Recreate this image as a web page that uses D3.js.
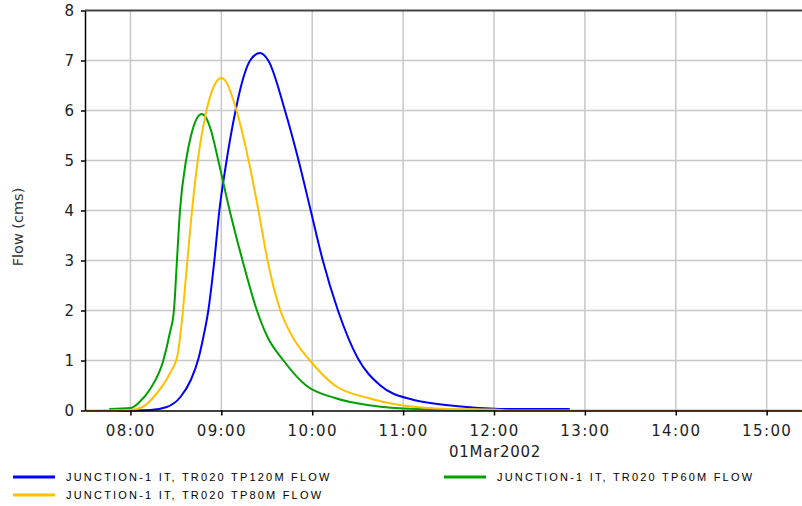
<!DOCTYPE html>
<html>
<head>
<meta charset="utf-8">
<script src="https://cdn.jsdelivr.net/npm/d3@7"></script>
<style>
  body { margin: 0; background: #fff; }
  svg { display: block; }
</style>
</head>
<body>
<div id="chart"></div>
<script>
// Flow hydrographs, 01 Mar 2002 (times HH:MM[:SS], flow in cms)
const day = "2002-03-01";
const xStart = "07:30", xEnd = "15:23:20";
const hourTicks = ["08:00", "09:00", "10:00", "11:00", "12:00", "13:00", "14:00", "15:00"];
const flowTicks = [0, 1, 2, 3, 4, 5, 6, 7, 8];

const seriesNames = [
  "JUNCTION-1 IT, TR020 TP120M FLOW",
  "JUNCTION-1 IT, TR020 TP60M FLOW",
  "JUNCTION-1 IT, TR020 TP80M FLOW"
];
const seriesColors = ["#0000ff", "#00a000", "#ffc000"];

const tp120Times = ["07:52","08:13","08:24","08:33","08:40","08:45","08:48","08:51:24","08:55:24","08:58:42","09:02:42","09:09:24","09:14","09:19","09:25:30","09:31","09:42","09:51","09:59","10:07","10:17","10:30","10:45","11:06","11:18","11:42","12:10","12:50"];
const tp120Flow  = [0, 0.01, 0.07, 0.27, 0.62, 1.05, 1.45, 2.00, 3.00, 4.00, 4.85, 6.00, 6.60, 7.00, 7.15, 7.00, 6.00, 5.00, 4.00, 3.00, 2.00, 1.05, 0.50, 0.22, 0.15, 0.07, 0.03, 0.03];

const tp60Times = ["07:46","08:00","08:06","08:13","08:21:42","08:26","08:28:42","08:30:42","08:32:42","08:36:42","08:40","08:44","08:47","08:50","08:53","08:58","09:05:30","09:14","09:23:30","09:30","09:41","09:56","10:15","10:39","11:09","11:30","12:00","12:10"];
const tp60Flow  = [0.03, 0.05, 0.17, 0.43, 1.00, 1.55, 2.00, 3.00, 4.00, 5.00, 5.50, 5.85, 5.93, 5.85, 5.62, 5.00, 4.00, 3.00, 2.00, 1.50, 1.00, 0.50, 0.25, 0.10, 0.03, 0.02, 0.01, 0];

const tp80Times = ["07:30","08:00","08:08","08:17","08:26","08:31","08:34","08:37","08:40","08:44","08:49:30","08:55","09:00","09:03","09:10","09:18","09:24:30","09:30:30","09:39","09:46:30","09:58:30","10:15","10:37","11:00","11:31","12:00","12:10","15:23"];
const tp80Flow  = [0, 0.01, 0.07, 0.33, 0.74, 1.10, 1.80, 2.80, 3.80, 4.90, 5.90, 6.48, 6.65, 6.58, 6.00, 5.00, 4.00, 3.00, 2.00, 1.50, 1.00, 0.50, 0.25, 0.10, 0.03, 0.02, 0, 0];

const parseT = s => d3.timeParse("%Y-%m-%d %H:%M:%S")(day + " " + (s.length === 5 ? s + ":00" : s));
const toPoints = (times, flows) => times.map((t, i) => ({ t: parseT(t), v: flows[i] }));
const series = [
  toPoints(tp120Times, tp120Flow),
  toPoints(tp60Times, tp60Flow),
  toPoints(tp80Times, tp80Flow)
];

const width = 802, height = 506;
const margin = { top: 10.5, right: 0, bottom: 95.5, left: 85 };

const svg = d3.select("#chart").append("svg")
  .attr("width", width)
  .attr("height", height);

const x = d3.scaleTime()
  .domain([parseT(xStart), parseT(xEnd)])
  .range([margin.left, width - margin.right]);
const y = d3.scaleLinear()
  .domain([0, 8])
  .range([height - margin.bottom, margin.top]);

// Grid
svg.append("g")
  .selectAll("line")
  .data(hourTicks.map(parseT))
  .join("line")
  .attr("x1", d => x(d)).attr("x2", d => x(d))
  .attr("y1", y(8)).attr("y2", y(0))
  .attr("stroke", "#c8c8c8")
  .attr("stroke-width", 1.5);
svg.append("g")
  .selectAll("line")
  .data(flowTicks.filter(d => d > 0 && d < 8))
  .join("line")
  .attr("x1", x.range()[0]).attr("x2", x.range()[1])
  .attr("y1", d => y(d)).attr("y2", d => y(d))
  .attr("stroke", "#c8c8c8")
  .attr("stroke-width", 1.5);

// Top border
svg.append("line")
  .attr("x1", x.range()[0]).attr("x2", x.range()[1])
  .attr("y1", y(8)).attr("y2", y(8))
  .attr("stroke", "#444")
  .attr("stroke-width", 2);

// Series lines
const line = d3.line()
  .x(d => x(d.t))
  .y(d => y(d.v))
  .curve(d3.curveMonotoneX);

series.forEach((s, i) => {
  svg.append("path")
    .datum(s)
    .attr("fill", "none")
    .attr("stroke", seriesColors[i])
    .attr("stroke-width", 2)
    .attr("stroke-linejoin", "round")
    .attr("d", line);
});

// Axes
const xAxis = svg.append("g")
  .attr("transform", `translate(0,${y(0)})`)
  .call(d3.axisBottom(x)
    .tickValues(hourTicks.map(parseT))
    .tickFormat(d3.timeFormat("%H:%M"))
    .tickSize(5)
    .tickPadding(10)
    .tickSizeOuter(0));
xAxis.select(".domain").attr("stroke", "#000").attr("stroke-width", 1.5);
xAxis.selectAll(".tick line").attr("stroke", "#000").attr("stroke-width", 1.5);
xAxis.selectAll(".tick text")
  .attr("font-family", "DejaVu Sans")
  .attr("font-size", 15)
  .attr("letter-spacing", 1.4)
  .attr("fill", "#222");

const yAxis = svg.append("g")
  .attr("transform", `translate(${x.range()[0]},0)`)
  .call(d3.axisLeft(y)
    .tickValues(flowTicks)
    .tickFormat(d3.format("d"))
    .tickSize(4)
    .tickPadding(7)
    .tickSizeOuter(0));
yAxis.select(".domain").attr("stroke", "#000").attr("stroke-width", 1.5);
yAxis.selectAll(".tick line").attr("stroke", "#000").attr("stroke-width", 1.5);
yAxis.selectAll(".tick text")
  .attr("font-family", "DejaVu Sans")
  .attr("font-size", 15)
  .attr("fill", "#222");

// Date label
svg.append("text")
  .attr("x", x(parseT("12:00")) + 1)
  .attr("y", 457)
  .attr("text-anchor", "middle")
  .attr("font-family", "DejaVu Sans")
  .attr("font-size", 15)
  .attr("letter-spacing", 0.7)
  .attr("fill", "#222")
  .text("01Mar2002");

// Y-axis label
svg.append("text")
  .attr("transform", "rotate(-90)")
  .attr("x", -227)
  .attr("y", 23)
  .attr("text-anchor", "middle")
  .attr("font-family", "DejaVu Sans")
  .attr("font-size", 14.5)
  .attr("fill", "#333")
  .text("Flow (cms)");

// Legend
const legendPos = [[13, 477], [444, 477], [13, 495]];
const legend = svg.append("g");
seriesNames.forEach((name, i) => {
  const [lx, ly] = legendPos[i];
  legend.append("line")
    .attr("x1", lx).attr("x2", lx + 42)
    .attr("y1", ly).attr("y2", ly)
    .attr("stroke", seriesColors[i])
    .attr("stroke-width", 3);
  legend.append("text")
    .attr("x", lx + 53)
    .attr("y", ly + 4)
    .attr("font-family", "Liberation Sans")
    .attr("font-size", 11)
    .attr("letter-spacing", 2.2)
    .attr("fill", "#000")
    .text(name);
});
</script>
</body>
</html>
